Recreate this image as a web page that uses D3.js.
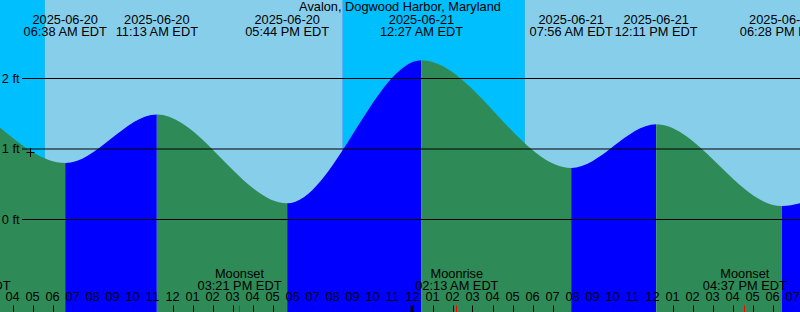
<!DOCTYPE html>
<html>
<head>
<meta charset="utf-8">
<script src="https://cdn.jsdelivr.net/npm/d3@7"></script>
<style>
  body { margin: 0; background: #fff; }
  svg { display: block; font-family: "Liberation Sans", Arial, sans-serif; font-size: 12.8px; }
</style>
</head>
<body>
<script>
var title = "Avalon, Dogwood Harbor, Maryland";

// window of the chart (local time, kept as UTC to avoid tz shifts)
var windowStart = "2025-06-20T03:22:30";
var windowEnd = "2025-06-21T19:22:30";

// tide curve: edge readings + high/low tides (feet)
var tideTimes = ["2025-06-20T03:22:30", "2025-06-20T06:38:00", "2025-06-20T11:13:00", "2025-06-20T17:44:00",
                 "2025-06-21T00:27:00", "2025-06-21T07:56:00", "2025-06-21T12:11:00", "2025-06-21T18:28:00",
                 "2025-06-21T19:22:30"];
var tideLevels = [1.30, 0.80, 1.49, 0.23, 2.26, 0.73, 1.35, 0.19, 0.23];
var tideLabeled = [false, true, true, true, true, true, true, true, false];

// sun: night/day bands
var sunTimes = ["2025-06-20T05:37:00", "2025-06-20T20:31:00", "2025-06-21T05:37:00"];

// moon events
var moonTimes = ["2025-06-20T01:49:00", "2025-06-20T15:21:00", "2025-06-21T02:13:00", "2025-06-21T16:37:00"];
var moonNames = ["Moonrise", "Moonset", "Moonrise", "Moonset"];

var levelTicks = [0, 1, 2];

// "+" mark
var markTime = "2025-06-20T04:53:00";
var markLevel = 0.96;

var width = 800, height = 312;
var parse = d3.utcParse("%Y-%m-%dT%H:%M:%S");
var fmtDate = d3.utcFormat("%Y-%m-%d");
var fmtTime = d3.utcFormat("%I:%M %p EDT");
var fmtHour = d3.utcFormat("%I");

var x = d3.scaleUtc()
    .domain([parse(windowStart), parse(windowEnd)])
    .range([0, width]);
var y = d3.scaleLinear()
    .domain([0, 2])
    .range([219.5, 78.5]);

var tide = tideTimes.map(function(t, i) {
  return {t: parse(t), v: tideLevels[i], label: tideLabeled[i]};
});

var svg = d3.select("body").append("svg")
    .attr("width", width)
    .attr("height", height);

// water colour per segment: rising = blue, falling = green
for (var i = 0; i < tide.length - 1; i++) {
  var a = tide[i], b = tide[i + 1];
  svg.append("rect")
    .attr("x", x(a.t))
    .attr("y", 0)
    .attr("width", x(b.t) - x(a.t))
    .attr("height", height)
    .attr("fill", b.v > a.v ? "#0000ff" : "#2e8b57");
}

// sky above the curve
var skyArea = d3.area()
    .curve(d3.curveMonotoneX)
    .x(function(d) { return x(d.t); })
    .y0(0)
    .y1(function(d) { return y(d.v); });

svg.append("clipPath").attr("id", "sky")
  .append("path")
    .attr("d", skyArea(tide));

var edges = [parse(windowStart)].concat(sunTimes.map(parse), [parse(windowEnd)]);
var sky = svg.append("g").attr("clip-path", "url(#sky)");
for (var j = 0; j < edges.length - 1; j++) {
  sky.append("rect")
    .attr("x", x(edges[j]))
    .attr("y", 0)
    .attr("width", x(edges[j + 1]) - x(edges[j]))
    .attr("height", height)
    .attr("fill", j % 2 == 0 ? "#00bfff" : "#87ceeb");
}

// level lines + labels
svg.selectAll(".grid")
    .data(levelTicks)
  .enter().append("line")
    .attr("x1", 22)
    .attr("x2", width)
    .attr("y1", function(d) { return y(d); })
    .attr("y2", function(d) { return y(d); })
    .attr("stroke", "#000");

svg.selectAll(".lvl")
    .data(levelTicks)
  .enter().append("text")
    .attr("x", 19.5)
    .attr("y", function(d) { return y(d); })
    .attr("dy", "0.35em")
    .attr("text-anchor", "end")
    .text(function(d) { return d + " ft"; });

// "+" mark
var mx = Math.round(x(parse(markTime))) + 0.5, my = Math.round(y(markLevel)) + 0.5;
svg.append("path")
    .attr("d", "M" + (mx - 4) + "," + my + "H" + (mx + 4) + "M" + mx + "," + (my - 4.5) + "V" + (my + 4.5))
    .attr("stroke", "#000");

// title + tide labels
svg.append("text")
    .attr("x", width / 2)
    .attr("y", 11)
    .attr("text-anchor", "middle")
    .text(title);

var tl = svg.selectAll(".tl")
    .data(tide.filter(function(d) { return d.label; }))
  .enter().append("g");
tl.append("text")
    .attr("x", function(d) { return x(d.t); })
    .attr("y", 23.5)
    .attr("text-anchor", "middle")
    .text(function(d) { return fmtDate(d.t); });
tl.append("text")
    .attr("x", function(d) { return x(d.t); })
    .attr("y", 35.5)
    .attr("text-anchor", "middle")
    .text(function(d) { return fmtTime(d.t); });

// moon labels
var moon = moonTimes.map(function(t, i) { return {t: parse(t), name: moonNames[i]}; });
var ml = svg.selectAll(".ml")
    .data(moon)
  .enter().append("g");
ml.append("text")
    .attr("x", function(d) { return x(d.t); })
    .attr("y", 277.5)
    .attr("text-anchor", "middle")
    .text(function(d) { return d.name; });
ml.append("text")
    .attr("x", function(d) { return x(d.t); })
    .attr("y", 289.5)
    .attr("text-anchor", "middle")
    .text(function(d) { return fmtTime(d.t); });

// hour ticks
var hours = x.ticks(d3.utcHour.every(1));
svg.selectAll(".hr")
    .data(hours)
  .enter().append("text")
    .attr("x", function(d) { return x(d); })
    .attr("y", 301)
    .attr("text-anchor", "middle")
    .text(function(d) { return fmtHour(d); });

svg.selectAll(".tick")
    .data(hours)
  .enter().append("line")
    .attr("x1", function(d) { return Math.round(x(d)) + 0.5 - (d.getUTCHours() == 0 ? 1.5 : 0); })
    .attr("x2", function(d) { return Math.round(x(d)) + 0.5 - (d.getUTCHours() == 0 ? 1.5 : 0); })
    .attr("y1", 305.5)
    .attr("y2", height)
    .attr("stroke", "#000")
    .attr("stroke-width", function(d) { return d.getUTCHours() == 0 ? 3 : 1; });

svg.selectAll(".mtick")
    .data(moon)
  .enter().append("line")
    .attr("x1", function(d) { return Math.floor(x(d.t)) + 0.5; })
    .attr("x2", function(d) { return Math.floor(x(d.t)) + 0.5; })
    .attr("y1", 305.5)
    .attr("y2", height)
    .attr("stroke", "#ff0000");
</script>
</body>
</html>
